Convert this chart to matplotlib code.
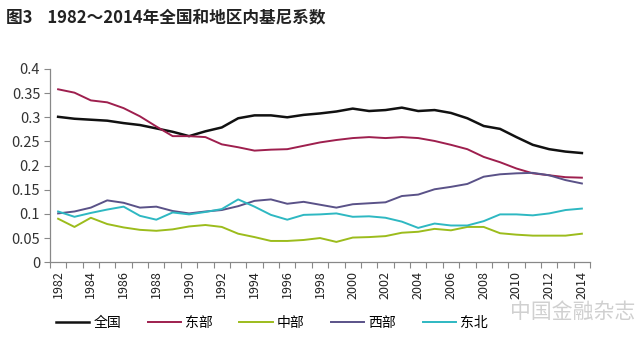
#!/usr/bin/env python
# -*- coding: utf-8 -*-

import numpy as np
import matplotlib.pyplot as plt
from matplotlib.ticker import FixedLocator, FuncFormatter

plt.rcParams['font.family'] = ['Noto Sans CJK SC', 'DejaVu Sans']

years = list(range(1982, 2015))

national = [0.301, 0.297, 0.295, 0.293, 0.288, 0.284, 0.277, 0.270, 0.261, 0.271,
            0.279, 0.298, 0.304, 0.304, 0.300, 0.305, 0.308, 0.312, 0.318, 0.313,
            0.315, 0.320, 0.313, 0.315, 0.309, 0.298, 0.282, 0.276, 0.259, 0.243,
            0.234, 0.229, 0.226]
east = [0.358, 0.351, 0.335, 0.331, 0.319, 0.302, 0.281, 0.261, 0.261, 0.259,
        0.244, 0.238, 0.231, 0.233, 0.234, 0.241, 0.248, 0.253, 0.257, 0.259,
        0.257, 0.259, 0.257, 0.251, 0.243, 0.234, 0.218, 0.207, 0.194, 0.184,
        0.180, 0.176, 0.175]
central = [0.090, 0.073, 0.092, 0.079, 0.072, 0.067, 0.065, 0.068, 0.074, 0.077,
           0.073, 0.059, 0.052, 0.044, 0.044, 0.046, 0.050, 0.042, 0.051, 0.052,
           0.054, 0.061, 0.063, 0.069, 0.066, 0.073, 0.073, 0.060, 0.057, 0.055,
           0.055, 0.055, 0.059]
west = [0.101, 0.105, 0.113, 0.128, 0.123, 0.113, 0.115, 0.106, 0.101, 0.105,
        0.108, 0.116, 0.127, 0.130, 0.121, 0.125, 0.119, 0.113, 0.120, 0.122,
        0.124, 0.137, 0.140, 0.151, 0.156, 0.162, 0.177, 0.182, 0.184, 0.185,
        0.180, 0.170, 0.163]
northeast = [0.105, 0.094, 0.102, 0.109, 0.115, 0.096, 0.088, 0.103, 0.099, 0.104,
             0.110, 0.130, 0.115, 0.098, 0.088, 0.098, 0.099, 0.101, 0.094, 0.095,
             0.092, 0.084, 0.071, 0.080, 0.076, 0.076, 0.085, 0.099, 0.099, 0.097,
             0.101, 0.108, 0.111]

series = [
    ('全国', national, '#111111', 1.8),
    ('东部', east, '#9e1f4e', 1.4),
    ('中部', central, '#9cbc1c', 1.4),
    ('西部', west, '#5a5288', 1.4),
    ('东北', northeast, '#2eb8c2', 1.4),
]

fig = plt.figure(figsize=(6.4, 3.45), dpi=100)
ax = fig.add_axes([0.078, 0.24, 0.844, 0.56])

for name, vals, color, lw in series:
    ax.plot(years, vals, color=color, lw=lw, label=name)

ax.set_xlim(1981.5, 2014.5)
ax.set_ylim(0, 0.4)

# labels every 2 years, tick marks between categories
ax.xaxis.set_major_locator(FixedLocator(years[::2]))
ax.xaxis.set_minor_locator(FixedLocator(np.arange(1981.5, 2015, 1.0)))
ax.tick_params(axis='x', which='major', length=0, labelsize=9,
               labelrotation=90, pad=6, colors='#222222')
ax.tick_params(axis='x', which='minor', length=4, color='#888888', width=0.8)

ax.set_yticks(np.arange(0, 0.41, 0.05))
ax.yaxis.set_major_formatter(FuncFormatter(lambda v, p: ('%.2f' % v).rstrip('0').rstrip('.')))
ax.tick_params(axis='y', length=4, color='#888888', width=0.8,
               labelsize=10.5, labelcolor='#333333', pad=3)

for s in ['top', 'right']:
    ax.spines[s].set_visible(False)
for s in ['left', 'bottom']:
    ax.spines[s].set_color('#888888')
    ax.spines[s].set_linewidth(0.9)

fig.text(0.01, 0.95, '图3    1982～2014年全国和地区内基尼系数',
         fontsize=12, fontweight='bold', color='#222222', va='center')

leg = ax.legend(loc='upper left', ncol=5, frameon=False,
                fontsize=10, handlelength=2.4, handletextpad=0.3, columnspacing=1.9)
leg.set_bbox_to_anchor((0.068, 0.12), transform=fig.transFigure)

fig.text(0.992, 0.095, '中国金融杂志', fontsize=15, color='#d0d0d0',
         ha='right', va='center')

fig.savefig('out.png', dpi=100)
